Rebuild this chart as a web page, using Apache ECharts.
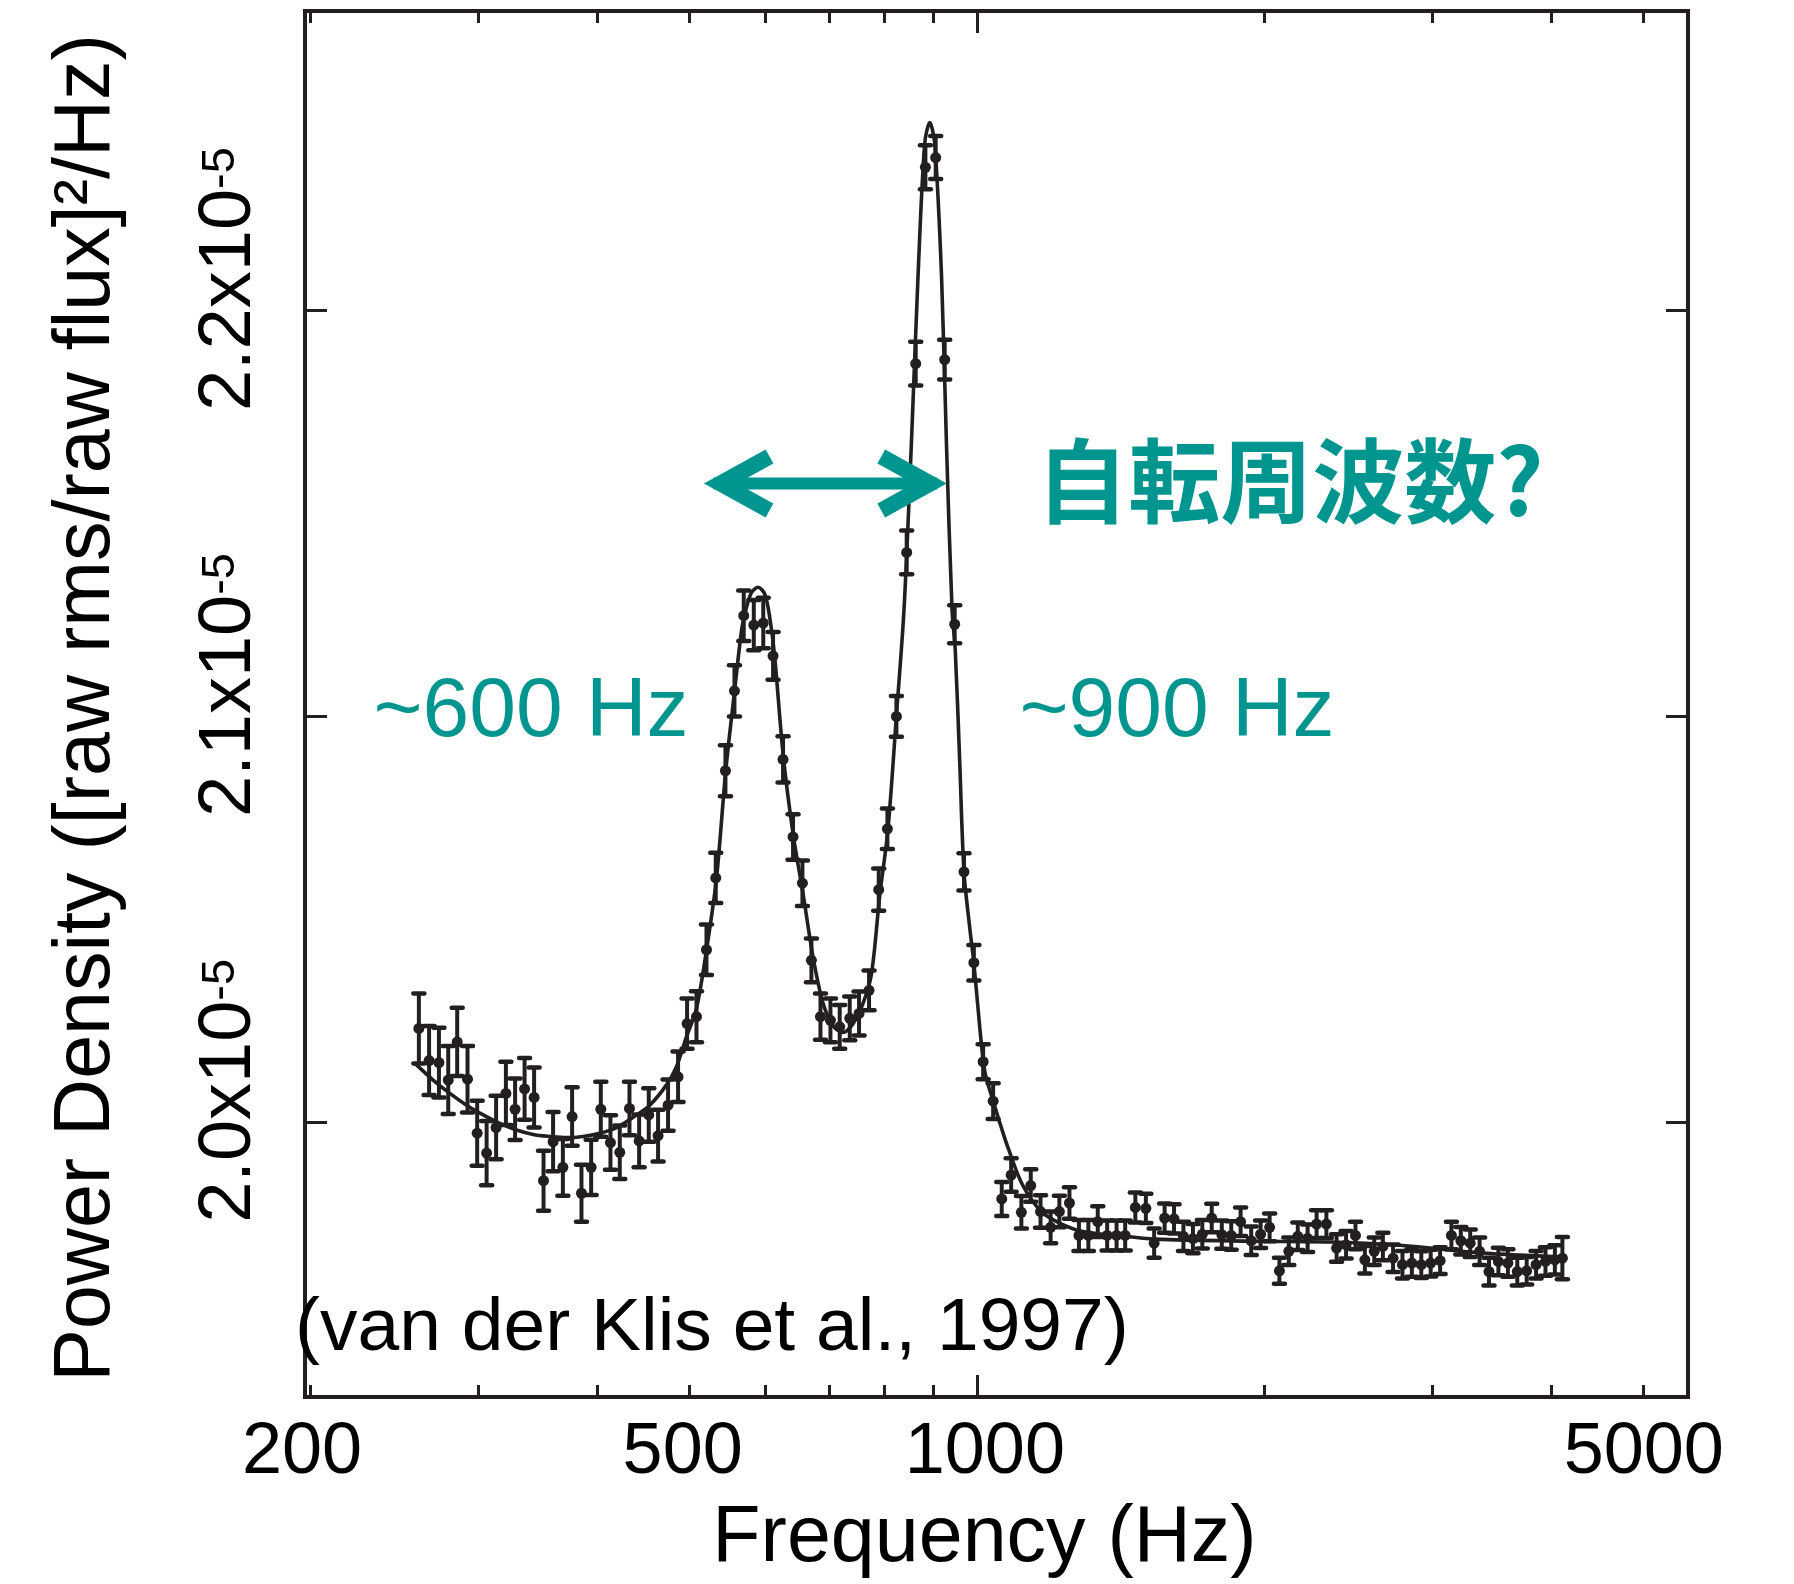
<!DOCTYPE html>
<html>
<head>
<meta charset="UTF-8">
<title>Power density spectrum (van der Klis et al., 1997)</title>
<script src="https://cdn.jsdelivr.net/npm/echarts@6.0.0/dist/echarts.min.js"></script>
<style>
  html, body { margin: 0; padding: 0; background: #fff; }
  #chart { width: 1794px; height: 1584px; }
</style>
</head>
<body>
<div id="chart"></div>
<script>
// axis ticks (Hz) and power ticks (x1e-5)
const freqMinorTicks = [200, 300, 400, 500, 600, 700, 800, 900, 2000, 3000, 4000, 5000];
const freqMajorTicks = [1000];
const freqLabels = [200, 500, 1000, 5000];
const powerTicks = [2.0, 2.1, 2.2];
const freqRange = [197.6, 5564];
const powerRange = [1.9322, 2.2737];

// measured points: frequency (Hz), power density (x1e-5), 1-sigma error (x1e-5)
const freq = [
  260.1, 266.6, 273.0, 279.2, 285.3, 292.5, 299.4, 306.3, 313.4, 320.9,
  328.1, 335.7, 343.5, 351.4, 359.6, 368.2, 376.5, 385.1, 394.2, 403.5,
  413.0, 422.4, 432.4, 442.6, 453.0, 463.3, 474.6, 486.2, 496.9, 508.3,
  520.7, 532.5, 545.1, 557.1, 569.7, 583.7, 597.2, 611.5, 626.4, 641.7,
  656.4, 670.8, 685.6, 702.3, 718.2, 735.8, 752.5, 770.9, 789.1, 805.8,
  823.5, 844.2, 862.8, 883.2, 905.4, 925.3, 947.9, 969.4, 992.8, 1015.3,
  1040.1, 1061.9, 1086.3, 1113.4, 1138.9, 1166.1, 1194.9, 1220.3, 1250.4, 1279.4,
  1308.8, 1338.8, 1369.5, 1401.0, 1430.4, 1466.0, 1503.6, 1534.0, 1573.3, 1609.4,
  1646.3, 1684.5, 1723.1, 1762.7, 1806.1, 1847.6, 1889.9, 1938.9, 1983.4, 2027.0,
  2075.5, 2123.1, 2169.7, 2221.6, 2270.4, 2324.7, 2382.6, 2437.8, 2493.7, 2550.9,
  2609.4, 2664.2, 2730.6, 2793.2, 2857.3, 2923.0, 2990.0, 3058.9, 3143.4, 3215.6,
  3289.3, 3364.7, 3441.9, 3520.8, 3602.5, 3685.1, 3769.6, 3856.0, 3944.6, 4035.0,
  4108.9
];
const power = [
  2.0230, 2.0151, 2.0146, 2.0103, 2.0197, 2.0105, 1.9972, 1.9923, 1.9986, 2.0070,
  2.0031, 2.0081, 2.0060, 1.9855, 1.9951, 1.9888, 2.0013, 1.9824, 1.9888, 2.0031,
  1.9949, 1.9925, 2.0033, 1.9953, 2.0017, 1.9966, 2.0041, 2.0111, 2.0242, 2.0259,
  2.0424, 2.0601, 2.0865, 2.1062, 2.1247, 2.1224, 2.1229, 2.1148, 2.0893, 2.0702,
  2.0588, 2.0398, 2.0259, 2.0250, 2.0234, 2.0255, 2.0267, 2.0324, 2.0572, 2.0722,
  2.0999, 2.1403, 2.1868, 2.2352, 2.2376, 2.1878, 2.1226, 2.0616, 2.0392, 2.0148,
  2.0051, 1.9810, 1.9869, 1.9777, 1.9843, 1.9779, 1.9740, 1.9779, 1.9800, 1.9720,
  1.9720, 1.9754, 1.9720, 1.9720, 1.9720, 1.9789, 1.9787, 1.9701, 1.9763, 1.9761,
  1.9718, 1.9712, 1.9723, 1.9763, 1.9722, 1.9720, 1.9754, 1.9707, 1.9723, 1.9740,
  1.9633, 1.9681, 1.9718, 1.9713, 1.9748, 1.9748, 1.9689, 1.9697, 1.9720, 1.9660,
  1.9681, 1.9693, 1.9664, 1.9648, 1.9652, 1.9648, 1.9652, 1.9658, 1.9720, 1.9707,
  1.9701, 1.9681, 1.9631, 1.9656, 1.9652, 1.9631, 1.9633, 1.9648, 1.9656, 1.9660,
  1.9664
];
const powerErr = [
  0.0086, 0.0085, 0.0086, 0.0084, 0.0084, 0.0082, 0.0080, 0.0079, 0.0078, 0.0078,
  0.0076, 0.0076, 0.0074, 0.0074, 0.0073, 0.0070, 0.0072, 0.0070, 0.0068, 0.0068,
  0.0067, 0.0066, 0.0066, 0.0065, 0.0066, 0.0064, 0.0063, 0.0062, 0.0062, 0.0063,
  0.0062, 0.0062, 0.0063, 0.0063, 0.0062, 0.0062, 0.0062, 0.0059, 0.0057, 0.0056,
  0.0056, 0.0054, 0.0057, 0.0054, 0.0054, 0.0054, 0.0054, 0.0049, 0.0052, 0.0050,
  0.0050, 0.0054, 0.0054, 0.0054, 0.0053, 0.0049, 0.0047, 0.0046, 0.0044, 0.0043,
  0.0044, 0.0042, 0.0041, 0.0040, 0.0040, 0.0040, 0.0039, 0.0039, 0.0039, 0.0038,
  0.0038, 0.0038, 0.0037, 0.0037, 0.0037, 0.0037, 0.0036, 0.0036, 0.0036, 0.0036,
  0.0036, 0.0036, 0.0035, 0.0035, 0.0035, 0.0035, 0.0035, 0.0035, 0.0034, 0.0034,
  0.0032, 0.0034, 0.0034, 0.0034, 0.0034, 0.0034, 0.0034, 0.0034, 0.0034, 0.0034,
  0.0034, 0.0034, 0.0034, 0.0034, 0.0034, 0.0033, 0.0033, 0.0033, 0.0034, 0.0034,
  0.0034, 0.0034, 0.0034, 0.0034, 0.0034, 0.0034, 0.0034, 0.0034, 0.0035, 0.0036,
  0.0052
];

// fitted model curve
const fitFreq = [
  257.6, 269.2, 280.3, 291.8, 303.8, 316.2, 329.2, 342.7, 356.8, 371.5,
  386.6, 402.5, 419.1, 436.2, 454.1, 472.8, 484.3, 496.2, 508.3, 520.7,
  533.4, 545.5, 557.5, 567.0, 573.5, 580.4, 589.8, 599.4, 606.6, 614.0,
  626.4, 641.7, 657.4, 673.4, 689.9, 706.7, 723.5, 741.7, 759.8, 775.5,
  791.0, 807.0, 823.5, 838.8, 853.9, 867.6, 881.7, 892.6, 903.3, 918.3,
  929.2, 941.8, 949.1, 959.5, 969.4, 983.2, 992.8, 1007.3, 1019.5, 1040.1,
  1061.4, 1078.5, 1116.3, 1168.1, 1222.4, 1290.9, 1401.0, 1538.8, 1932.3, 2344.3,
  2775.7, 3131.9, 3533.6, 4104.0
];
const fitPower = [
  2.0144, 2.0103, 2.0070, 2.0041, 2.0017, 1.9996, 1.9980, 1.9969, 1.9964, 1.9961,
  1.9964, 1.9972, 1.9986, 2.0011, 2.0041, 2.0091, 2.0136, 2.0210, 2.0279, 2.0423,
  2.0599, 2.0865, 2.1066, 2.1214, 2.1267, 2.1304, 2.1317, 2.1300, 2.1243, 2.1144,
  2.0907, 2.0710, 2.0562, 2.0406, 2.0292, 2.0237, 2.0220, 2.0242, 2.0292, 2.0365,
  2.0557, 2.0722, 2.1000, 2.1263, 2.1673, 2.2083, 2.2411, 2.2462, 2.2411, 2.2083,
  2.1673, 2.1263, 2.1165, 2.0886, 2.0616, 2.0476, 2.0392, 2.0230, 2.0123, 2.0051,
  1.9984, 1.9935, 1.9845, 1.9779, 1.9750, 1.9730, 1.9720, 1.9711, 1.9706, 1.9704,
  1.9696, 1.9684, 1.9674, 1.9667
];

// double arrow between the two peaks (Hz, x1e-5)
const arrowFrom = [517, 2.1573];
const arrowTo = [931, 2.1573];

const INK = '#231f20';
const TEAL = '#00968f';
const FONT = '"Liberation Sans", Arial, Helvetica, sans-serif';
const lg = Math.log10;

// value axes in log10(Hz) that only carry ticks / labels
function freqTickAxis(position, ticks, len, label) {
  return {
    type: 'value',
    position: position,
    min: lg(freqRange[0]),
    max: lg(freqRange[1]),
    axisLine: { show: false },
    splitLine: { show: false },
    axisTick: {
      show: true, inside: true, length: len,
      customValues: ticks.map(lg),
      lineStyle: { color: INK, width: 3 }
    },
    axisLabel: label || { show: false }
  };
}

const xLabel = {
  show: true,
  customValues: freqLabels.map(lg),
  margin: 20,
  formatter: function (v) {
    const f = Math.round(Math.pow(10, v));
    return '{f' + f + '|' + f + '}';
  },
  rich: {
    f200: { fontSize: 72, fontFamily: FONT, color: '#000', padding: [0, 16, 0, 0] },
    f500: { fontSize: 72, fontFamily: FONT, color: '#000', padding: [0, 14, 0, 0] },
    f1000: { fontSize: 72, fontFamily: FONT, color: '#000', padding: [0, 0, 0, 16] },
    f5000: { fontSize: 72, fontFamily: FONT, color: '#000' }
  }
};

function powerAxis(position, label) {
  return {
    type: 'value',
    position: position,
    min: powerRange[0],
    max: powerRange[1],
    axisLine: { show: false },
    splitLine: { show: false },
    axisTick: {
      show: true, inside: true, length: 22,
      customValues: powerTicks,
      lineStyle: { color: INK, width: 3 }
    },
    axisLabel: label || { show: false }
  };
}

const xAxes = [
  { type: 'log', logBase: 10, min: freqRange[0], max: freqRange[1],
    axisLine: { show: false }, axisTick: { show: false },
    axisLabel: { show: false }, splitLine: { show: false } },
  Object.assign(freqTickAxis('bottom', freqMinorTicks, 12, xLabel), {
    name: 'Frequency (Hz)',
    nameLocation: 'middle',
    nameGap: 103,
    nameTextStyle: { fontSize: 79, fontFamily: FONT, color: '#000', padding: [0, 24, 0, 0] }
  }),
  freqTickAxis('bottom', freqMajorTicks, 22),
  freqTickAxis('top', freqMinorTicks, 12),
  freqTickAxis('top', freqMajorTicks, 22)
];

const yAxes = [
  Object.assign(powerAxis('left', {
    show: true,
    customValues: powerTicks,
    rotate: 90,
    margin: 35,
    padding: [0, 0, 0, 62],
    formatter: function (v) { return '{b|' + v.toFixed(1) + 'x10}{s|-5}'; },
    rich: {
      b: { fontSize: 74, lineHeight: 80, fontFamily: FONT, color: '#000' },
      s: { fontSize: 47, lineHeight: 47, fontFamily: FONT, color: '#000', padding: [0, 0, 18, 0] }
    }
  }), {
    name: 'Power Density ([raw rms/raw flux]\u00b2/Hz)',
    nameLocation: 'middle',
    nameGap: 178,
    nameTextStyle: { fontSize: 79, fontFamily: FONT, color: '#000', padding: [0, 8, 0, 0] }
  }),
  powerAxis('right')
];

function renderErrorBar(params, api) {
  const f = api.value(0);
  const p = api.value(1);
  const e = api.value(2);
  const top = api.coord([f, p + e]);
  const bot = api.coord([f, p - e]);
  const cap = 5.5;
  const stem = { stroke: INK, lineWidth: 4 };
  const capStyle = { stroke: INK, lineWidth: 4.5, lineCap: 'round' };
  return {
    type: 'group',
    children: [
      { type: 'line', shape: { x1: top[0], y1: top[1], x2: bot[0], y2: bot[1] }, style: stem },
      { type: 'line', shape: { x1: top[0] - cap, y1: top[1], x2: top[0] + cap, y2: top[1] }, style: capStyle },
      { type: 'line', shape: { x1: bot[0] - cap, y1: bot[1], x2: bot[0] + cap, y2: bot[1] }, style: capStyle }
    ]
  };
}

const option = {
  backgroundColor: '#fff',
  animation: false,
  grid: {
    left: 305, right: 106, top: 11, bottom: 185,
    show: true, borderColor: INK, borderWidth: 4, backgroundColor: 'transparent'
  },
  xAxis: xAxes,
  yAxis: yAxes,
  series: [
    {
      name: 'fit',
      type: 'line',
      xAxisIndex: 0, yAxisIndex: 0,
      data: fitFreq.map((f, i) => [f, fitPower[i]]),
      showSymbol: false,
      smooth: 0.3,
      lineStyle: { color: INK, width: 3.6 },
      z: 2,
      silent: true
    },
    {
      name: 'error',
      type: 'custom',
      xAxisIndex: 0, yAxisIndex: 0,
      data: freq.map((f, i) => [f, power[i], powerErr[i]]),
      encode: { x: 0, y: 1 },
      renderItem: renderErrorBar,
      z: 3,
      silent: true
    },
    {
      name: 'data',
      type: 'scatter',
      xAxisIndex: 0, yAxisIndex: 0,
      data: freq.map((f, i) => [f, power[i]]),
      symbolSize: 11,
      itemStyle: { color: INK, opacity: 1 },
      z: 4,
      silent: true
    }
  ]
};

const chart = echarts.init(document.getElementById('chart'));
chart.setOption(option);

// annotations
const a0 = chart.convertToPixel({ xAxisIndex: 0, yAxisIndex: 0 }, arrowFrom);
const a1 = chart.convertToPixel({ xAxisIndex: 0, yAxisIndex: 0 }, arrowTo);

function chevron(tip, dir) {
  return {
    type: 'polyline',
    shape: { points: [[tip[0] - dir * 66, tip[1] - 27], [tip[0] - dir * 17, tip[1]], [tip[0] - dir * 66, tip[1] + 27]] },
    style: { stroke: TEAL, lineWidth: 16, lineJoin: 'miter', fill: null },
    z: 20
  };
}

chart.setOption({
  graphic: [
    {
      type: 'line',
      shape: { x1: a0[0] + 10, y1: a0[1], x2: a1[0] - 10, y2: a1[1] },
      style: { stroke: TEAL, lineWidth: 12 },
      z: 20
    },
    chevron(a0, -1),
    chevron(a1, 1),
    {
      type: 'text', x: 531, y: 713, z: 20,
      style: { text: '~600 Hz', fill: TEAL, font: '84px ' + FONT, align: 'center', verticalAlign: 'middle' }
    },
    {
      type: 'text', x: 1177, y: 713, z: 20,
      style: { text: '~900 Hz', fill: TEAL, font: '84px ' + FONT, align: 'center', verticalAlign: 'middle' }
    },
    {
      type: 'text', x: 1290, y: 481, z: 20,
      style: { text: '自転周波数?', fill: TEAL, font: 'bold 92px "Noto Sans CJK JP", sans-serif', align: 'center', verticalAlign: 'middle' }
    },
    {
      type: 'text', x: 295, y: 1329, z: 20,
      style: { text: '(van der Klis et al., 1997)', fill: '#000', font: '75px ' + FONT, align: 'left', verticalAlign: 'middle' }
    }
  ]
});

window.addEventListener('resize', function () { chart.resize(); });
</script>
</body>
</html>
